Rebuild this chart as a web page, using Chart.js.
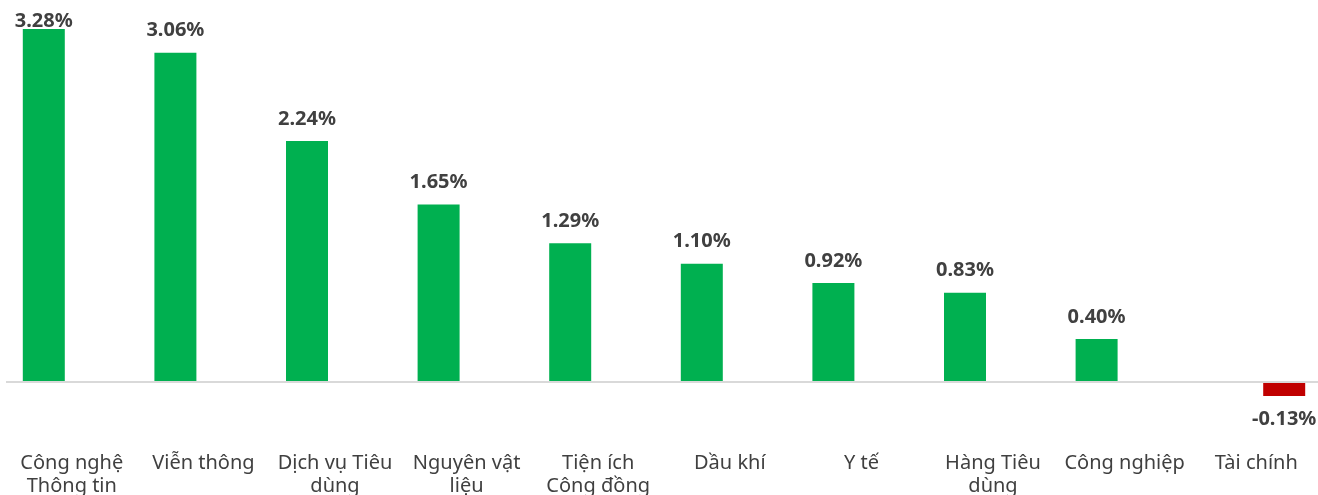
<!DOCTYPE html>
<html>
<head>
<meta charset="utf-8">
<script src="https://cdn.jsdelivr.net/npm/chart.js@4/dist/chart.umd.min.js"></script>
<style>
    html, body { margin: 0; padding: 0; background: #ffffff; overflow: hidden; }
    #wrap { position: absolute; left: 6px; top: 0; width: 1316px; height: 520px; }
</style>
</head>
<body>
<div id="wrap"><canvas id="bar-chart"></canvas></div>
<script>

    //---------------------------------------------------------------------------------------------
    // - DATA -------------------------------------------------------------------------------------
    //---------------------------------------------------------------------------------------------

    var categories = [
        ["Công nghệ", "Thông tin"],
        "Viễn thông",
        ["Dịch vụ Tiêu", "dùng"],
        ["Nguyên vật", "liệu"],
        ["Tiện ích", "Công đồng"],
        "Dầu khí",
        "Y tế",
        ["Hàng Tiêu", "dùng"],
        "Công nghiệp",
        "Tài chính"
    ];

    var gain_values = [3.28, 3.06, 2.24, 1.65, 1.29, 1.10, 0.92, 0.83, 0.40, null];
    var loss_values = [null, null, null, null, null, null, null, null, null, -0.13];

    //---------------------------------------------------------------------------------------------
    // - VALUE LABELS PLUGIN ----------------------------------------------------------------------
    //---------------------------------------------------------------------------------------------

    var value_labels = {
        id: 'valueLabels',
        afterDatasetsDraw: function (chart) {
            var ctx = chart.ctx;
            ctx.save();
            ctx.font = 'bold 20px "Noto Sans"';
            ctx.fillStyle = '#404040';
            ctx.textAlign = 'center';
            chart.data.datasets.forEach(function (ds, i) {
                var meta = chart.getDatasetMeta(i);
                meta.data.forEach(function (bar, j) {
                    var v = ds.data[j];
                    if (v === null || v === undefined) return;
                    var txt = v.toFixed(2) + '%';
                    if (v >= 0) {
                        ctx.textBaseline = 'bottom';
                        ctx.fillText(txt, bar.x, Math.max(bar.y - 12, 31));
                    } else {
                        ctx.textBaseline = 'top';
                        ctx.fillText(txt, bar.x, bar.y + 13);
                    }
                });
            });
            ctx.restore();
        }
    };

    //---------------------------------------------------------------------------------------------
    // - BAR CHART --------------------------------------------------------------------------------
    //---------------------------------------------------------------------------------------------

    var bar_chart_data = {
        labels: categories,
        datasets: [{
            label: 'Tăng',
            backgroundColor: "#00b050",
            data: gain_values
        }, {
            label: 'Giảm',
            backgroundColor: "#c00000",
            data: loss_values
        }]
    };

    var bar_chart_config = {
        type: 'bar',
        data: bar_chart_data,
        plugins: [value_labels],
        options: {
            responsive: true,
            maintainAspectRatio: false,
            animation: false,
            categoryPercentage: 0.851,
            barPercentage: 0.75,
            layout: { padding: 0 },
            plugins: {
                legend: { display: false },
                tooltip: { enabled: false }
            },
            scales: {
                x: {
                    grid: { display: false, drawTicks: false },
                    border: { display: false },
                    ticks: {
                        color: '#404040',
                        padding: 7,
                        autoSkip: false,
                        maxRotation: 0,
                        font: { family: '"Noto Sans"', size: 20, lineHeight: 1.15 }
                    },
                    afterFit: function (scale) { scale.height = 75; }
                },
                y: {
                    min: -0.5855,
                    max: 3.55,
                    border: { display: false },
                    grid: {
                        drawTicks: false,
                        color: '#d9d9d9',
                        lineWidth: 2
                    },
                    ticks: { display: false },
                    afterBuildTicks: function (scale) { scale.ticks = [{ value: 0 }]; },
                    afterFit: function (scale) { scale.width = 0; }
                }
            }
        }
    };

    var bar_chart_ctx = document.getElementById("bar-chart").getContext("2d");

    new Chart(bar_chart_ctx, bar_chart_config);

</script>
</body>
</html>
